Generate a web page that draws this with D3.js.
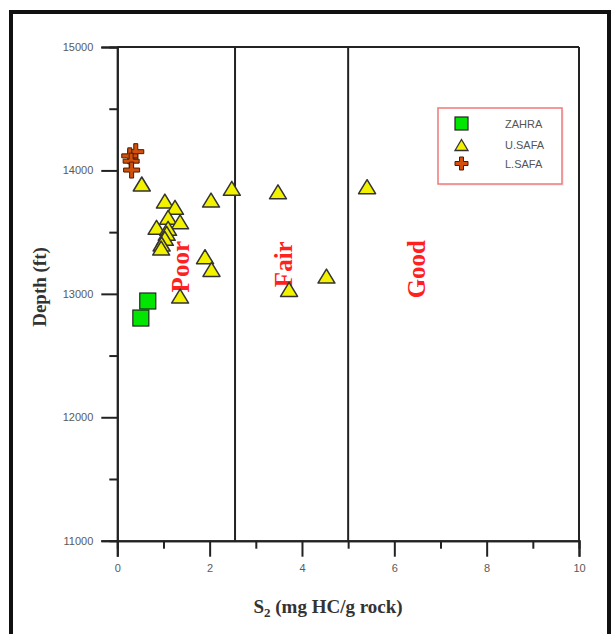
<!DOCTYPE html>
<html>
<head>
<meta charset="utf-8">
<script src="https://cdn.jsdelivr.net/npm/d3@7"></script>
<style>
  html, body { margin: 0; padding: 0; background: #fff; }
  svg { display: block; }
</style>
</head>
<body>
<svg id="chart" width="614" height="634"></svg>
<script>
// ---------- data ----------
const zahraS2 = [0.51, 0.66];
const zahraDepth = [12804, 12942];

const uSafaS2 = [0.53, 1.03, 1.25, 1.10, 1.36, 0.85, 1.10, 1.07, 1.03, 0.96, 0.95,
                 2.03, 2.48, 3.48, 5.41, 1.90, 2.04, 1.36, 3.72, 4.53];
const uSafaDepth = [13890, 13752, 13701, 13620, 13584, 13539, 13531, 13490, 13450, 13404, 13371,
                    13760, 13855, 13827, 13868, 13301, 13198, 12982, 13036, 13144];

const lSafaS2 = [0.40, 0.27, 0.30, 0.31];
const lSafaDepth = [14152, 14118, 14075, 14003];

const boundaries = [2.55, 5];
const zoneLabels = ["Poor", "Fair", "Good"];
const zoneLabelS2 = [1.38, 3.6, 6.5];
const zoneLabelDepth = [13220, 13240, 13200];

const xMajorTicks = [0, 2, 4, 6, 8, 10];
const xMinorTicks = [1, 3, 5, 7, 9];
const yMajorTicks = [11000, 12000, 13000, 14000, 15000];
const yMinorTicks = [11500, 12500, 13500, 14500];

const seriesNames = ["ZAHRA", "U.SAFA", "L.SAFA"];

// ---------- setup ----------
const svg = d3.select("#chart");
const x = d3.scaleLinear().domain([0, 10]).range([117.3, 579]);
const y = d3.scaleLinear().domain([11000, 15000]).range([540.7, 47]);

// outer border
svg.append("rect").attr("x", 11).attr("y", 12).attr("width", 598).attr("height", 640)
  .attr("fill", "none").attr("stroke", "#111").attr("stroke-width", 4);

const axisColor = "#222";

// zone boundaries
svg.selectAll("line.bound").data(boundaries).enter().append("line")
  .attr("class", "bound")
  .attr("x1", d => x(d)).attr("x2", d => x(d))
  .attr("y1", y(15000)).attr("y2", y(11000))
  .attr("stroke", axisColor).attr("stroke-width", 2);

// frame top & right
svg.append("line").attr("x1", x(0)).attr("x2", x(10)).attr("y1", y(15000)).attr("y2", y(15000))
  .attr("stroke", axisColor).attr("stroke-width", 2);
svg.append("line").attr("x1", x(10)).attr("x2", x(10)).attr("y1", y(15000)).attr("y2", y(11000))
  .attr("stroke", axisColor).attr("stroke-width", 2);

// bottom axis
const xAxis = d3.axisBottom(x).tickValues(xMajorTicks).tickSize(16).tickPadding(8).tickFormat(d3.format("d"));
const gx = svg.append("g").attr("transform", `translate(0,${y(11000)})`).call(xAxis);
const xMinor = d3.axisBottom(x).tickValues(xMinorTicks).tickSize(8).tickFormat("");
const gxm = svg.append("g").attr("transform", `translate(0,${y(11000)})`).call(xMinor);

// left axis
const yAxis = d3.axisLeft(y).tickValues(yMajorTicks).tickSize(16).tickPadding(8).tickFormat(d3.format("d"));
const gy = svg.append("g").attr("transform", `translate(${x(0)},0)`).call(yAxis);
const yMinor = d3.axisLeft(y).tickValues(yMinorTicks).tickSize(8).tickFormat("");
const gym = svg.append("g").attr("transform", `translate(${x(0)},0)`).call(yMinor);

[gx, gxm, gy, gym].forEach(g => {
  g.select(".domain").attr("stroke", axisColor).attr("stroke-width", 2);
  g.selectAll(".tick line").attr("stroke", axisColor).attr("stroke-width", 2);
  g.selectAll(".tick text").attr("fill", "#5a5a5a").style("font-family", "Arial, 'Liberation Sans', sans-serif").style("font-size", "11px");
});

// axis titles
svg.append("text").attr("x", 328).attr("y", 613).attr("text-anchor", "middle")
  .style("font-family", "'Liberation Serif', 'Times New Roman', serif").style("font-weight", "bold")
  .style("font-size", "19px").attr("fill", "#333")
  .call(t => {
    t.append("tspan").text("S");
    t.append("tspan").attr("dy", 4).style("font-size", "13px").text("2");
    t.append("tspan").attr("dy", -4).text(" (mg HC/g rock)");
  });

svg.append("text").attr("transform", `translate(46,287) rotate(-90)`).attr("text-anchor", "middle")
  .style("font-family", "'Liberation Serif', 'Times New Roman', serif").style("font-weight", "bold")
  .style("font-size", "19px").attr("fill", "#333").text("Depth (ft)");

// zone labels
svg.selectAll("text.zone").data(zoneLabels).enter().append("text")
  .attr("class", "zone")
  .attr("transform", (d, i) => `translate(${x(zoneLabelS2[i]) + 8},${y(zoneLabelDepth[i])}) rotate(-90)`)
  .attr("text-anchor", "middle")
  .style("font-family", "'Liberation Serif', 'Times New Roman', serif").style("font-weight", "bold")
  .style("font-size", "25px").attr("fill", "#ff2020").text(d => d);

// marker shapes
function triPath(w, h) {
  return `M0,${-h/2} L${w/2},${h/2} L${-w/2},${h/2} Z`;
}
function crossPath(s, t) {
  const a = s / 2, b = t / 2;
  return `M${-b},${-a} H${b} V${-b} H${a} V${b} H${b} V${a} H${-b} V${b} H${-a} V${-b} H${-b} Z`;
}

const uSafa = uSafaS2.map((v, i) => [v, uSafaDepth[i]]);
const zahra = zahraS2.map((v, i) => [v, zahraDepth[i]]);
const lSafa = lSafaS2.map((v, i) => [v, lSafaDepth[i]]);

svg.selectAll("path.usafa").data(uSafa).enter().append("path")
  .attr("class", "usafa")
  .attr("transform", d => `translate(${x(d[0])},${y(d[1])})`)
  .attr("d", triPath(17, 14))
  .attr("fill", "#f2f200").attr("stroke", "#333").attr("stroke-width", 1.5).attr("stroke-linejoin", "round");

svg.selectAll("rect.zahra").data(zahra).enter().append("rect")
  .attr("class", "zahra")
  .attr("x", d => x(d[0]) - 8).attr("y", d => y(d[1]) - 8)
  .attr("width", 16).attr("height", 16)
  .attr("fill", "#00e600").attr("stroke", "#222").attr("stroke-width", 1.2);

svg.selectAll("path.lsafa").data(lSafa).enter().append("path")
  .attr("class", "lsafa")
  .attr("transform", d => `translate(${x(d[0])},${y(d[1])})`)
  .attr("d", crossPath(16, 4))
  .attr("fill", "#d2500a").attr("stroke", "#4a1c00").attr("stroke-width", 1);

// legend
const lg = svg.append("g").attr("transform", "translate(438,108)");
lg.append("rect").attr("x", 2).attr("y", 2).attr("width", 124).attr("height", 76)
  .attr("fill", "#e8e8e8").attr("opacity", 0.6);
lg.append("rect").attr("width", 124).attr("height", 76)
  .attr("fill", "#fff").attr("stroke", "#f07878").attr("stroke-width", 1.5);

const legendY = [15.5, 37, 55.5];
lg.append("rect").attr("x", 17).attr("y", legendY[0] - 6.5).attr("width", 13).attr("height", 13)
  .attr("fill", "#00e600").attr("stroke", "#222").attr("stroke-width", 1.2);
lg.append("path").attr("transform", `translate(23.5,${legendY[1]})`).attr("d", triPath(13, 11))
  .attr("fill", "#f2f200").attr("stroke", "#333").attr("stroke-width", 1.3);
lg.append("path").attr("transform", `translate(23.5,${legendY[2]})`).attr("d", crossPath(13, 4))
  .attr("fill", "#d2500a").attr("stroke", "#4a1c00").attr("stroke-width", 1);

lg.selectAll("text.leg").data(seriesNames).enter().append("text")
  .attr("class", "leg")
  .attr("x", 67).attr("y", (d, i) => legendY[i] + 4)
  .style("font-family", "Arial, 'Liberation Sans', sans-serif").style("font-size", "11px")
  .attr("fill", "#555").text(d => d);
</script>
</body>
</html>
